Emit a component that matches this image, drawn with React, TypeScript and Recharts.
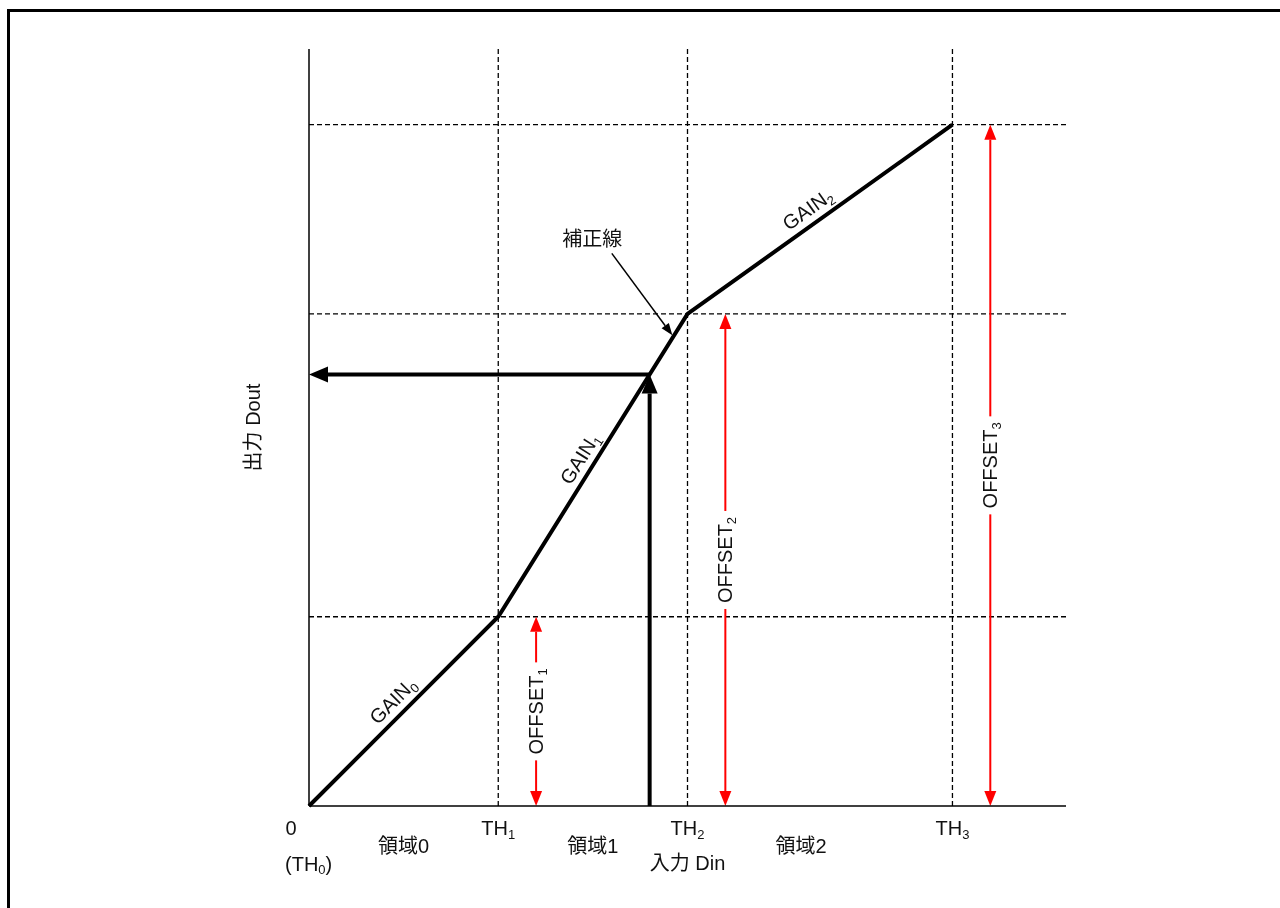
import React from "react";
import { ComposedChart, Line, XAxis, YAxis, ReferenceLine, ReferenceDot } from "recharts";

const FONT = '"Liberation Sans", Arial, "Noto Sans CJK JP", sans-serif';

// thresholds TH0..TH3 on the Din axis
const TH = [0, 1, 2, 3.4];
// output level reached at TH1..TH3
const OFFSET = [1, 2.6, 3.6];
// where the red OFFSET arrows stand
const OFFSET_X = [1.2, 2.2, 3.6];
// the correction line (補正線)
const CORRECTION = [
  { x: 0, y: 0 },
  { x: 1, y: 1 },
  { x: 2, y: 2.6 },
  { x: 3.4, y: 3.6 },
];
const REGIONS = [
  { x: 0.5, label: "領域0" },
  { x: 1.5, label: "領域1" },
  { x: 2.6, label: "領域2" },
];
const GAINS = [
  { x: 0.442, y: 0.556, angle: -45, sub: "0" },
  { x: 1.431, y: 1.836, angle: -58, sub: "1" },
  { x: 2.635, y: 3.153, angle: -35.5, sub: "2" },
];
// example input and its corrected output
const DIN = 1.8;
const DOUT = 2.28;
// pointer from the 補正線 caption to the line
const CAPTION = { x: 1.497, y: 2.995 };
const POINTER = [
  { x: 1.6, y: 2.92 },
  { x: 1.92, y: 2.487 },
];

const TICKS = [...TH, ...REGIONS.map((r) => r.x)];

function head(tx: number, ty: number, fx: number, fy: number, len: number, wid: number) {
  const d = Math.hypot(tx - fx, ty - fy) || 1;
  const ux = (tx - fx) / d;
  const uy = (ty - fy) / d;
  const bx = tx - ux * len;
  const by = ty - uy * len;
  const px = (-uy * wid) / 2;
  const py = (ux * wid) / 2;
  return {
    bx,
    by,
    points: `${tx},${ty} ${bx + px},${by + py} ${bx - px},${by - py}`,
  };
}

type ArrowOpts = {
  color: string;
  width: number;
  len: number;
  wid: number;
  both?: boolean;
  label?: string;
};

function arrowShape(o: ArrowOpts) {
  return (p: any) => {
    const { x1, y1, x2, y2 } = p;
    const end = head(x2, y2, x1, y1, o.len, o.wid);
    const start = o.both ? head(x1, y1, x2, y2, o.len, o.wid) : null;
    const mx = (x1 + x2) / 2;
    const my = (y1 + y2) / 2;
    return (
      <g>
        <line
          x1={start ? start.bx : x1}
          y1={start ? start.by : y1}
          x2={end.bx}
          y2={end.by}
          stroke={o.color}
          strokeWidth={o.width}
        />
        <polygon points={end.points} fill={o.color} />
        {start && <polygon points={start.points} fill={o.color} />}
        {o.label && (
          <g transform={`rotate(-90 ${mx} ${my})`}>
            <rect x={mx - 49} y={my - 12} width={98} height={24} fill="#fff" />
            <text x={mx} y={my + 7} textAnchor="middle" fontSize={20} fontFamily={FONT} fill="#111">
              OFFSET
              <tspan fontSize={13} dy={4}>
                {o.label}
              </tspan>
            </text>
          </g>
        )}
      </g>
    );
  };
}

function DinTick(props: any) {
  const { x, y, payload } = props;
  const v = payload.value;
  const th = TH.indexOf(v);
  const common = { fontFamily: FONT, fill: "#111", fontSize: 20 };
  if (th === 0) {
    return (
      <g>
        <text x={x - 18} y={y + 27} textAnchor="middle" {...common}>
          0
        </text>
        <text x={x - 24} y={y + 63} {...common}>
          (TH
          <tspan fontSize={13} dy={3}>
            0
          </tspan>
          <tspan dy={-3}>)</tspan>
        </text>
      </g>
    );
  }
  if (th > 0) {
    return (
      <text x={x} y={y + 27} textAnchor="middle" {...common}>
        TH
        <tspan fontSize={13} dy={4}>
          {th}
        </tspan>
      </text>
    );
  }
  const r = REGIONS.find((g) => g.x === v);
  return (
    <text x={x} y={y + 45} textAnchor="middle" {...common}>
      {r ? r.label : ""}
    </text>
  );
}

function XTitle(props: any) {
  const vb = props.viewBox || {};
  return (
    <text x={vb.x + vb.width / 2} y={vb.y + 64} textAnchor="middle" fontSize={20} fontFamily={FONT} fill="#111">
      入力 Din
    </text>
  );
}

function YTitle(props: any) {
  const vb = props.viewBox || {};
  const cx = vb.x + (vb.width || 0) - 56;
  const cy = vb.y + vb.height / 2;
  return (
    <text
      x={cx}
      y={cy}
      transform={`rotate(-90 ${cx} ${cy})`}
      textAnchor="middle"
      dominantBaseline="central"
      fontSize={20}
      fontFamily={FONT}
      fill="#111"
    >
      出力 Dout
    </text>
  );
}

const dash = { stroke: "#000", strokeWidth: 1.3, strokeDasharray: "5 3" };

export default function App() {
  return (
    <div style={{ fontFamily: FONT }}>
      <div
        style={{
          position: "fixed",
          left: 7,
          top: 9,
          right: -10,
          bottom: -10,
          borderTop: "3px solid #000",
          borderLeft: "3px solid #000",
          pointerEvents: "none",
        }}
      />
      <ComposedChart width={1272} height={880} margin={{ top: 41, right: 214, bottom: 12, left: 241 }}>
        <XAxis
          type="number"
          dataKey="x"
          domain={[0, 4]}
          ticks={TICKS}
          interval={0}
          height={70}
          tickSize={0}
          tickLine={false}
          tick={<DinTick />}
          axisLine={{ stroke: "#000", strokeWidth: 1.5 }}
          label={{ content: XTitle }}
        />
        <YAxis
          type="number"
          domain={[0, 4]}
          width={60}
          tick={false}
          tickLine={false}
          axisLine={{ stroke: "#000", strokeWidth: 1.5 }}
          label={{ content: YTitle }}
        />

        {TH.slice(1).map((t) => (
          <ReferenceLine key={"v" + t} x={t} {...dash} />
        ))}
        {OFFSET.map((o) => (
          <ReferenceLine key={"h" + o} y={o} {...dash} />
        ))}

        {OFFSET.map((o, i) => (
          <ReferenceLine
            key={"o" + i}
            segment={[
              { x: OFFSET_X[i], y: 0 },
              { x: OFFSET_X[i], y: o },
            ]}
            shape={arrowShape({ color: "#ff0000", width: 2, len: 15, wid: 12, both: true, label: String(i + 1) })}
          />
        ))}

        <Line
          data={CORRECTION}
          dataKey="y"
          type="linear"
          stroke="#000"
          strokeWidth={4}
          strokeLinejoin="miter"
          dot={false}
          activeDot={false}
          isAnimationActive={false}
        />

        <ReferenceLine
          segment={[
            { x: DIN, y: 0 },
            { x: DIN, y: DOUT },
          ]}
          shape={arrowShape({ color: "#000", width: 4, len: 19, wid: 16 })}
        />
        <ReferenceLine
          segment={[
            { x: DIN, y: DOUT },
            { x: 0, y: DOUT },
          ]}
          shape={arrowShape({ color: "#000", width: 4, len: 19, wid: 16 })}
        />
        <ReferenceLine segment={POINTER} shape={arrowShape({ color: "#000", width: 1.5, len: 12, wid: 9 })} />

        <ReferenceDot
          x={CAPTION.x}
          y={CAPTION.y}
          r={0}
          shape={(p: any) => (
            <text x={p.cx} y={p.cy + 7} textAnchor="middle" fontSize={20} fontFamily={FONT} fill="#111">
              補正線
            </text>
          )}
        />
        {GAINS.map((g) => (
          <ReferenceDot
            key={"g" + g.sub}
            x={g.x}
            y={g.y}
            r={0}
            shape={(p: any) => (
              <text
                x={p.cx}
                y={p.cy + 7}
                transform={`rotate(${g.angle} ${p.cx} ${p.cy})`}
                textAnchor="middle"
                fontSize={20}
                fontFamily={FONT}
                fill="#111"
              >
                GAIN
                <tspan fontSize={13} dy={4}>
                  {g.sub}
                </tspan>
              </text>
            )}
          />
        ))}
      </ComposedChart>
    </div>
  );
}
